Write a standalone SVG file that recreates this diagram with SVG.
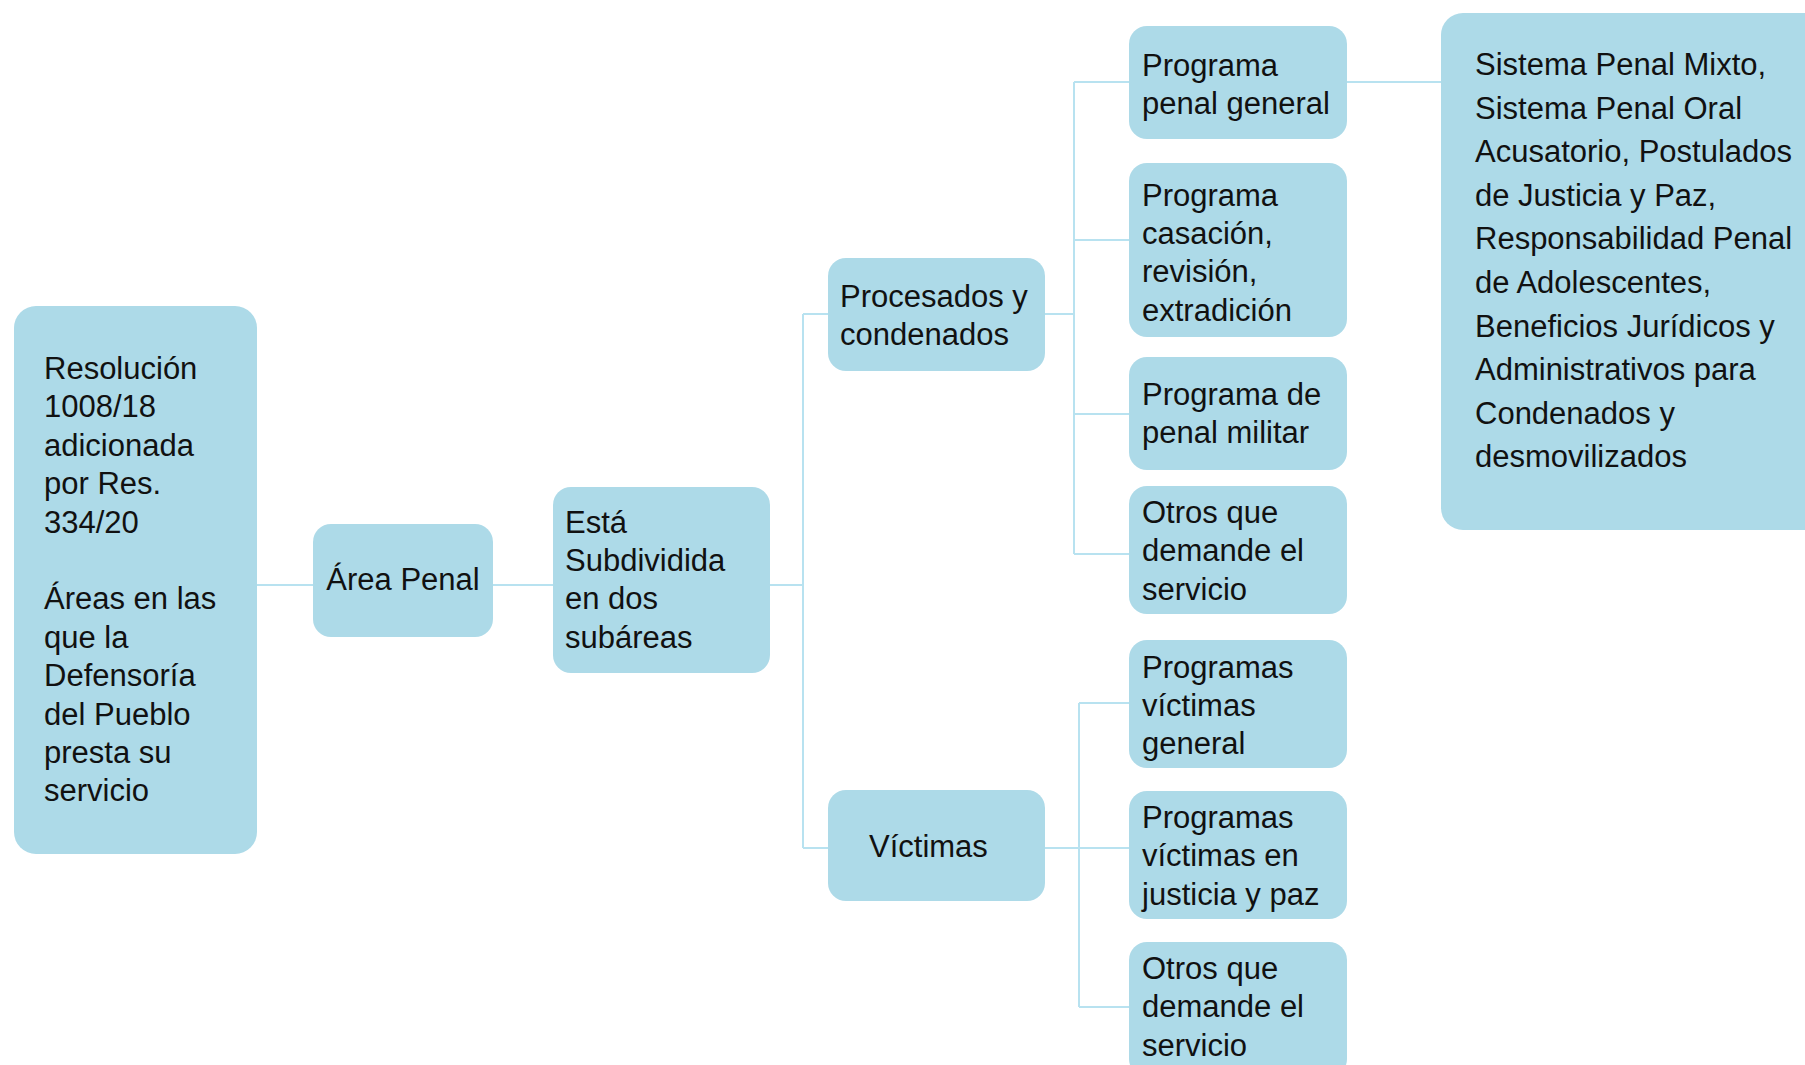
<svg xmlns="http://www.w3.org/2000/svg" width="1805" height="1065" viewBox="0 0 1805 1065">
<style>
.box{fill:#ADDAE8;}
.t{font-family:"Liberation Sans",Arial,sans-serif;font-size:31px;fill:#111;}
.c{fill:none;stroke:#B8E2F0;stroke-width:2;}
</style>
<rect width="1805" height="1065" fill="#fff"/>
<g id="connectors">
<path class="c" d="M257 585H553M770 585H803M803 314V848M803 314H828M803 848H828"/>
<path class="c" d="M1045 314H1074M1074 82V554M1074 82H1129M1074 240H1129M1074 414H1129M1074 554H1129"/>
<path class="c" d="M1045 848H1129M1079 703V1007M1079 703H1129M1079 1007H1129"/>
<path class="c" d="M1347 82H1441"/>
</g>
<g id="n-resolucion">
<rect class="box" x="14" y="306" width="243" height="548" rx="22"/>
<text class="t" x="44" y="379">Resolución</text>
<text class="t" x="44" y="417.4">1008/18</text>
<text class="t" x="44" y="455.8">adicionada</text>
<text class="t" x="44" y="494.2">por Res.</text>
<text class="t" x="44" y="532.6">334/20</text>
<text class="t" x="44" y="609.4">Áreas en las</text>
<text class="t" x="44" y="647.8">que la</text>
<text class="t" x="44" y="686.2">Defensoría</text>
<text class="t" x="44" y="724.6">del Pueblo</text>
<text class="t" x="44" y="763">presta su</text>
<text class="t" x="44" y="801.4">servicio</text>
</g>
<g id="n-area-penal">
<rect class="box" x="313" y="524" width="180" height="113" rx="18"/>
<text class="t" x="403" y="590" text-anchor="middle">Área Penal</text>
</g>
<g id="n-subdividida">
<rect class="box" x="553" y="487" width="217" height="186" rx="18"/>
<text class="t" x="565" y="532.5">Está</text>
<text class="t" x="565" y="570.9">Subdividida</text>
<text class="t" x="565" y="609.3">en dos</text>
<text class="t" x="565" y="647.7">subáreas</text>
</g>
<g id="n-procesados">
<rect class="box" x="828" y="258" width="217" height="113" rx="18"/>
<text class="t" x="840" y="307">Procesados y</text>
<text class="t" x="840" y="345.4">condenados</text>
</g>
<g id="n-victimas">
<rect class="box" x="828" y="790" width="217" height="111" rx="18"/>
<text class="t" x="869" y="857">Víctimas</text>
</g>
<g id="n-ppg">
<rect class="box" x="1129" y="26" width="218" height="113" rx="18"/>
<text class="t" x="1142" y="75.5">Programa</text>
<text class="t" x="1142" y="113.9">penal general</text>
</g>
<g id="n-casacion">
<rect class="box" x="1129" y="163" width="218" height="174" rx="18"/>
<text class="t" x="1142" y="205.5">Programa</text>
<text class="t" x="1142" y="243.9">casación,</text>
<text class="t" x="1142" y="282.3">revisión,</text>
<text class="t" x="1142" y="320.7">extradición</text>
</g>
<g id="n-militar">
<rect class="box" x="1129" y="357" width="218" height="113" rx="18"/>
<text class="t" x="1142" y="404.7">Programa de</text>
<text class="t" x="1142" y="443.1">penal militar</text>
</g>
<g id="n-otros1">
<rect class="box" x="1129" y="486" width="218" height="128" rx="18"/>
<text class="t" x="1142" y="523">Otros que</text>
<text class="t" x="1142" y="561.4">demande el</text>
<text class="t" x="1142" y="599.8">servicio</text>
</g>
<g id="n-vic-general">
<rect class="box" x="1129" y="640" width="218" height="128" rx="18"/>
<text class="t" x="1142" y="677.5">Programas</text>
<text class="t" x="1142" y="715.9">víctimas</text>
<text class="t" x="1142" y="754.3">general</text>
</g>
<g id="n-vic-jp">
<rect class="box" x="1129" y="791" width="218" height="128" rx="18"/>
<text class="t" x="1142" y="828">Programas</text>
<text class="t" x="1142" y="866.4">víctimas en</text>
<text class="t" x="1142" y="904.8">justicia y paz</text>
</g>
<g id="n-otros2">
<rect class="box" x="1129" y="942" width="218" height="135" rx="18"/>
<text class="t" x="1142" y="979">Otros que</text>
<text class="t" x="1142" y="1017.4">demande el</text>
<text class="t" x="1142" y="1055.8">servicio</text>
</g>
<g id="n-sistemas">
<rect class="box" x="1441" y="13" width="400" height="517" rx="22"/>
<text class="t" x="1475" y="75">Sistema Penal Mixto,</text>
<text class="t" x="1475" y="118.6">Sistema Penal Oral</text>
<text class="t" x="1475" y="162.2">Acusatorio, Postulados</text>
<text class="t" x="1475" y="205.8">de Justicia y Paz,</text>
<text class="t" x="1475" y="249.4">Responsabilidad Penal</text>
<text class="t" x="1475" y="293">de Adolescentes,</text>
<text class="t" x="1475" y="336.6">Beneficios Jurídicos y</text>
<text class="t" x="1475" y="380.2">Administrativos para</text>
<text class="t" x="1475" y="423.8">Condenados y</text>
<text class="t" x="1475" y="467.4">desmovilizados</text>
</g>
</svg>
